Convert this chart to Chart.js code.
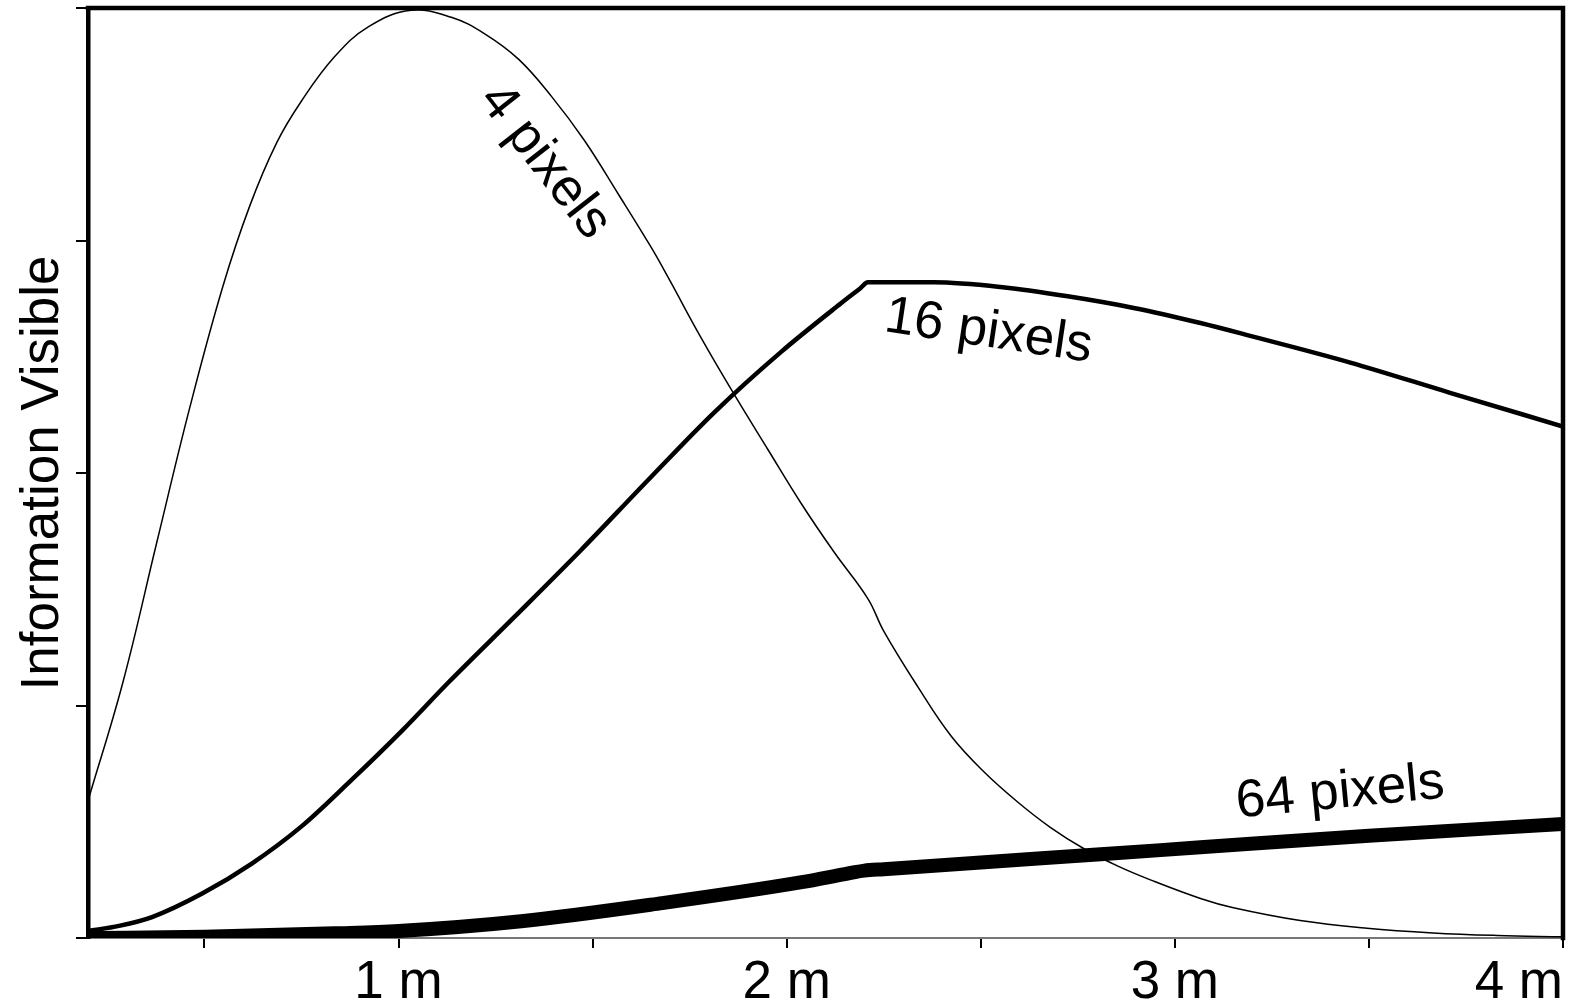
<!DOCTYPE html>
<html>
<head>
<meta charset="utf-8">
<script src="https://cdn.jsdelivr.net/npm/chart.js@4.4.1/dist/chart.umd.min.js"></script>
<style>
  html, body { margin: 0; padding: 0; background: #fff; }
  #chart { display: block; }
</style>
</head>
<body>
<canvas id="chart" width="1583" height="1008"></canvas>
<script>
const FONT = '"Liberation Sans", Arial, Helvetica, sans-serif';

// axes
const xTicks = [0.5, 1, 1.5, 2, 2.5, 3, 3.5, 4];
const xTickLabels = ['', '1 m', '', '2 m', '', '3 m', '', '4 m'];
const yTicks = [0, 1, 2, 3, 4];
const yTitle = 'Information Visible';

// 4 pixels (thin)
const dist4 = [0.2, 0.29, 0.377, 0.462, 0.547, 0.617, 0.686, 0.75, 0.835, 0.923, 1.033, 1.136, 1.221, 1.309, 1.394, 1.479, 1.566, 1.651, 1.695, 1.78, 1.864, 1.952, 2.037, 2.122, 2.209, 2.25, 2.338, 2.423, 2.508, 2.595, 2.68, 2.765, 2.852, 2.937, 3.066, 3.151, 3.323, 3.495, 3.665, 3.83, 4.0];
const info4 = [0.59, 1.10, 1.70, 2.28, 2.80, 3.15, 3.42, 3.60, 3.79, 3.92, 3.99, 3.96, 3.89, 3.78, 3.62, 3.43, 3.20, 2.97, 2.84, 2.58, 2.34, 2.10, 1.87, 1.66, 1.46, 1.32, 1.08, 0.87, 0.715, 0.585, 0.475, 0.385, 0.31, 0.25, 0.17, 0.13, 0.075, 0.042, 0.022, 0.011, 0.005];

// 16 pixels (medium)
const dist16 = [0.2, 0.28, 0.365, 0.493, 0.622, 0.75, 0.879, 1.008, 1.129, 1.298, 1.471, 1.643, 1.813, 1.985, 2.14, 2.19, 2.209, 2.379, 2.551, 2.724, 2.894, 3.066, 3.194, 3.452, 3.709, 4.0];
const info16 = [0.03, 0.052, 0.09, 0.19, 0.32, 0.48, 0.68, 0.89, 1.10, 1.38, 1.67, 1.97, 2.26, 2.52, 2.73, 2.795, 2.82, 2.82, 2.80, 2.76, 2.71, 2.645, 2.59, 2.475, 2.345, 2.20];

// 64 pixels (thick)
const dist64 = [0.2, 0.5, 0.835, 1.0, 1.316, 1.679, 2.039, 2.15, 2.2, 2.25, 2.5, 2.809, 3.066, 3.5, 4.0];
const info64 = [0.0, 0.005, 0.02, 0.03, 0.072, 0.15, 0.24, 0.275, 0.29, 0.296, 0.325, 0.36, 0.39, 0.44, 0.49];

// in-plot labels, anchored in data units
const seriesNames = ['4 pixels', '16 pixels', '64 pixels'];
const labelDist = [1.376, 2.52, 3.426];
const labelInfo = [3.338, 2.606, 0.624];
const labelAngle = [52, 8.5, -5.5];

const toPoints = (xs, ys) => xs.map((x, i) => ({x: x, y: ys[i]}));

const framePlugin = {
	id: 'frame',
	afterDatasetsDraw: function (chart) {
		const ctx = chart.ctx;
		const a = chart.chartArea;
		ctx.save();
		ctx.strokeStyle = '#000';
		ctx.lineWidth = 4.5;
		ctx.lineCap = 'square';
		ctx.beginPath();
		ctx.moveTo(a.left, a.top);
		ctx.lineTo(a.right, a.top);
		ctx.lineTo(a.right, a.bottom);
		ctx.stroke();
		ctx.restore();
	}
};

const curveLabelPlugin = {
	id: 'curveLabels',
	afterDatasetsDraw: function (chart) {
		const ctx = chart.ctx;
		const xs = chart.scales.x;
		const ys = chart.scales.y;
		ctx.save();
		ctx.fillStyle = '#000';
		ctx.font = '53px ' + FONT;
		ctx.textAlign = 'center';
		ctx.textBaseline = 'middle';
		seriesNames.forEach((name, i) => {
			ctx.save();
			ctx.translate(xs.getPixelForValue(labelDist[i]), ys.getPixelForValue(labelInfo[i]));
			ctx.rotate(labelAngle[i] * Math.PI / 180);
			ctx.fillText(name, 0, 0);
			ctx.restore();
		});
		ctx.restore();
	}
};

new Chart(document.getElementById('chart'), {
	type: 'line',
	data: {
		datasets: [{
			label: seriesNames[0],
			data: toPoints(dist4, info4),
			borderColor: '#000',
			borderWidth: 1.5,
			pointRadius: 0,
			tension: 0.4
		}, {
			label: seriesNames[1],
			data: toPoints(dist16, info16),
			borderColor: '#000',
			borderWidth: 4.5,
			pointRadius: 0,
			cubicInterpolationMode: 'monotone'
		}, {
			label: seriesNames[2],
			data: toPoints(dist64, info64),
			borderColor: '#000',
			borderWidth: 14,
			pointRadius: 0,
			cubicInterpolationMode: 'monotone'
		}]
	},
	options: {
		responsive: false,
		animation: false,
		layout: {
			padding: {left: 0, right: 20, top: 8, bottom: 0}
		},
		plugins: {
			legend: {display: false},
			tooltip: {enabled: false}
		},
		scales: {
			x: {
				type: 'linear',
				min: 0.2,
				max: 4,
				afterBuildTicks: (scale) => { scale.ticks = xTicks.map(v => ({value: v})); },
				afterFit: (scale) => { scale.height = 70; },
				border: {display: true, color: '#777', width: 2},
				grid: {drawOnChartArea: false, drawTicks: true, tickLength: 10, color: '#000', lineWidth: 2},
				ticks: {
					autoSkip: false,
					maxRotation: 0,
					align: 'inner',
					padding: 4,
					color: '#000',
					font: {family: FONT, size: 53},
					callback: (value, index) => xTickLabels[index]
				}
			},
			y: {
				type: 'linear',
				min: 0,
				max: 4,
				afterBuildTicks: (scale) => { scale.ticks = yTicks.map(v => ({value: v})); },
				afterFit: (scale) => { scale.width = 88; },
				border: {display: true, color: '#000', width: 4.5},
				grid: {drawOnChartArea: false, drawTicks: true, tickLength: 12, color: '#000', lineWidth: 2},
				ticks: {display: false},
				title: {
					display: true,
					text: yTitle,
					color: '#000',
					padding: {top: 12, bottom: 0},
					font: {family: FONT, size: 53}
				}
			}
		}
	},
	plugins: [framePlugin, curveLabelPlugin]
});
</script>
</body>
</html>
